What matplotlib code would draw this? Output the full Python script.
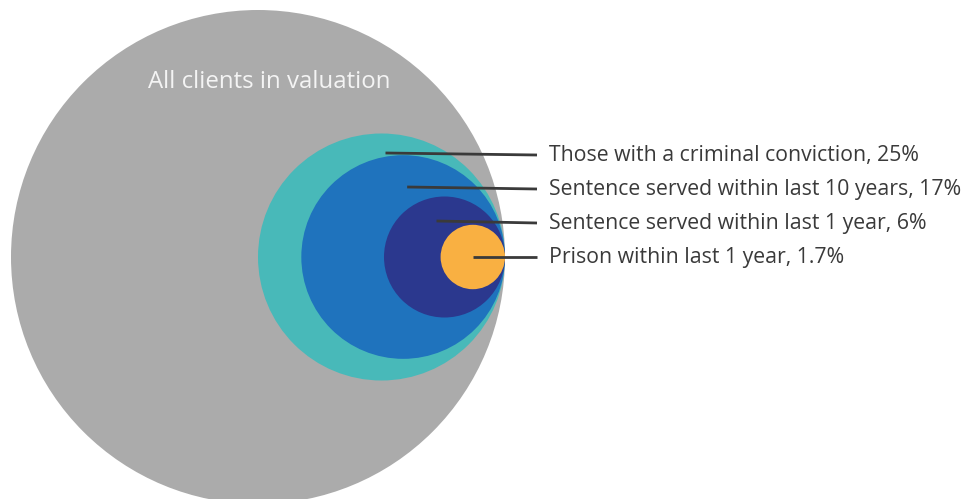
import matplotlib
matplotlib.use("Agg")
import matplotlib.pyplot as plt
import numpy as np
from matplotlib.patches import Circle

# datos
grupos = ["All clients in valuation",
          "Those with a criminal conviction",
          "Sentence served within last 10 years",
          "Sentence served within last 1 year",
          "Prison within last 1 year"]
pct = [100, 25, 17, 6, 1.7]
pct_txt = ["", "25%", "17%", "6%", "1.7%"]
colores = ["#ababab", "#48b9b9", "#1f73bd", "#2b388e", "#f9b042"]

# geometria (pixeles de la figura)
W, H = 967, 499
R = 247.0
xd, yc = 505.0, 257.0          # punto de tangencia a la derecha
x_lin, x_txt = 537, 549
dy = 34

plt.rcParams["font.family"] = ["Open Sans", "DejaVu Sans"]
fig = plt.figure(figsize=(W / 100, H / 100), dpi=100)
ax = fig.add_axes([0, 0, 1, 1])
ax.set_xlim(0, W); ax.set_ylim(H, 0)
ax.set_aspect("equal"); ax.axis("off")

radios = [R * np.sqrt(p / 100.0) for p in pct]
for r, c in zip(radios, colores):
    ax.add_patch(Circle((xd - r, yc), r, color=c, lw=0))

ax.text(xd - R + 11, 82, grupos[0], color="#f4f4f4", fontsize=17.3,
        ha="center", va="center")

n = len(grupos) - 1
for i in range(1, len(grupos)):
    ylab = yc - (n - i) * dy
    x0 = xd - radios[i] + (4 if i < n - 1 else -8 if i == n - 1 else 0)
    ax.plot([x0, x_lin], [ylab - 2 * (i < n), ylab], color="#3a3a3a", lw=2,
            solid_capstyle="butt")
    ax.text(x_txt, ylab, "%s, %s" % (grupos[i], pct_txt[i]), color="#3a3a3a",
            fontsize=15.3, ha="left", va="center")

fig.savefig("out.png", dpi=100)
